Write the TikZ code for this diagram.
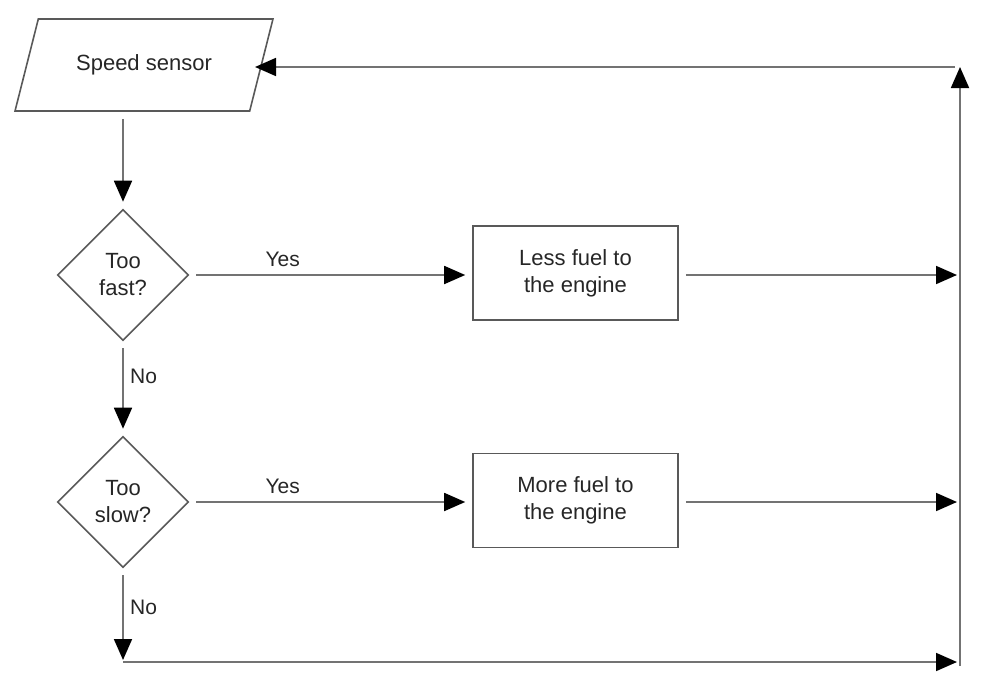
\documentclass[tikz,border=0pt]{standalone}
\usepackage{fontspec}
\setmainfont{Liberation Sans}
\usetikzlibrary{arrows.meta,positioning,shapes.geometric}

\begin{document}
\begin{tikzpicture}[x=1pt,y=-1pt,
	every node/.style={font=\fontsize{22}{27}\selectfont,text=black!85,align=center},
	box/.style={rectangle,draw=black!65,line width=1.6pt,minimum width=205pt,minimum height=94pt},
	ask/.style={diamond,draw=black!65,line width=1.6pt,aspect=1,minimum size=131pt,inner sep=0pt},
	io/.style={trapezium,trapezium left angle=60,trapezium right angle=120,trapezium stretches=true,
		draw=black!65,line width=1.6pt,minimum width=258pt,minimum height=92pt},
	to/.style={-{Triangle[length=21pt,width=18pt,color=black]},draw=black!55,line width=1.8pt,
		shorten >=7pt,shorten <=7pt},
	lbl/.style={font=\fontsize{21}{25}\selectfont}]
\useasboundingbox (0,0) rectangle (994,688);

\node[io] (sensor) at (144,65) {Speed sensor};
\node[ask] (fast) at (123,275) {Too\\fast?};
\node[ask] (slow) at (123,502) {Too\\slow?};
\node[box] (less) at (575.5,273) {Less fuel to\\the engine};
\node[box] (more) at (575.5,500.5) {More fuel to\\the engine};

\coordinate (bot) at (123,662);
\coordinate (rbot) at (960,666);
\coordinate (rtop) at (960,67);
\coordinate (ltop) at (955,67);

\draw[to] (fast.north |- sensor.south) -- (fast.north);
\draw[to] (fast.east) -- node[lbl,above=4pt,pos=0.33] {Yes} (fast.east -| less.west);
\draw[to] (slow.east) -- node[lbl,above=4pt,pos=0.33] {Yes} (slow.east -| more.west);
\draw[to] (fast.south) -- node[lbl,right=3pt,pos=0.37] {No} (slow.north);
\draw[to,shorten >=2pt] (slow.south) -- node[lbl,right=3pt,pos=0.42] {No} (bot);

\draw[to,shorten <=0pt,shorten >=3pt] (bot) -- (bot -| rtop);
\draw[to,shorten >=3pt] (less.east |- fast.east) -- (fast.east -| rtop);
\draw[to,shorten >=3pt] (more.east |- slow.east) -- (slow.east -| rtop);
\draw[to,shorten <=0pt,shorten >=0pt] (rbot) -- (rtop);
\draw[to,shorten <=0pt,shorten >=0pt] (ltop) -- (255,67);

\end{tikzpicture}
\end{document}
